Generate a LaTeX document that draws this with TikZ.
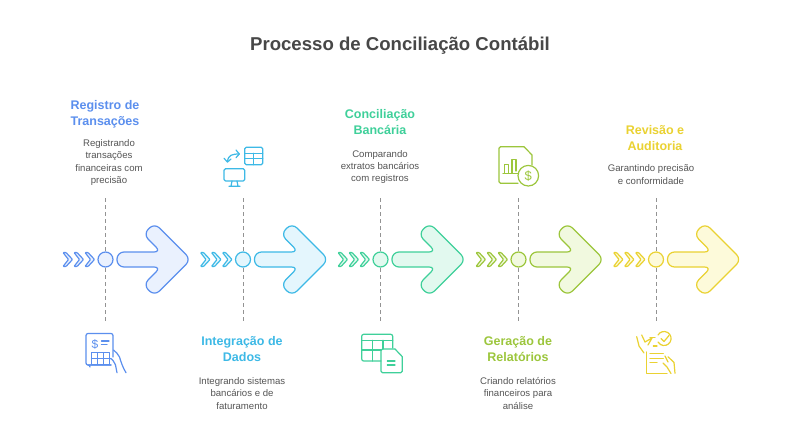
\documentclass[tikz,border=0pt]{standalone}
\usepackage{fontspec}
\setmainfont{Liberation Sans}
\definecolor{cblue}{HTML}{5B8FEE}\definecolor{fblue}{HTML}{EAF1FE}
\definecolor{ccyan}{HTML}{3DB9E6}\definecolor{fcyan}{HTML}{E4F6FD}
\definecolor{cgreen}{HTML}{3FD09A}\definecolor{fgreen}{HTML}{E2F9EF}
\definecolor{clime}{HTML}{9CC63C}\definecolor{flime}{HTML}{F1F9DF}
\definecolor{cyel}{HTML}{EAD232}\definecolor{fyel}{HTML}{FDFADA}
\definecolor{ctitle}{HTML}{474747}\definecolor{cbody}{HTML}{555555}
\tikzset{
 titletext/.style={text=ctitle,font=\fontsize{18.6}{22}\selectfont\bfseries,inner sep=0pt},
 headtext/.style={font=\fontsize{12.5}{16}\selectfont\bfseries,align=center,inner sep=0pt},
 bodytext/.style={text=cbody,font=\fontsize{9.6}{12.4}\selectfont,align=center,inner sep=0pt},
 guide/.style={draw=gray!85,line width=0.9pt,dash pattern=on 4pt off 3pt},
 outl/.style={line width=1.2pt,line join=round,line cap=round},
 icon/.style={line width=1.2pt,line join=round,line cap=round,fill=none},
}
\newcommand{\stage}[4]{% name, x, stroke, fill
 \begin{scope}[shift={(#2,0)}]
  \coordinate (#1top) at (0,198);
  \coordinate (#1bot) at (0,321);
  \draw[guide] (#1top) -- (#1bot);
  \foreach \d in {0,11,22}{
   \draw[outl,draw=#3,fill=#4,rounded corners=0.8pt]
    ([xshift=\d pt]-42.5,252.5) -- ++(3,0) -- ++(6.5,7) -- ++(-6.5,7) -- ++(-3,0) -- ++(5.5,-7) -- cycle;
  }
  \node[circle,draw=#3,fill=#4,line width=1.2pt,minimum size=15pt,inner sep=0pt] (#1c) at (0,259.5) {};
  \draw[outl,draw=#3,fill=#4,rounded corners=7pt]
   (11.5,252) -- (55.5,252) -- (37.7,234.2) -- (49,223) -- (85.5,259.5) -- (49,296) -- (37.7,284.8) -- (55.5,267) -- (11.5,267) -- cycle;
 \end{scope}
}
\begin{document}
\begin{tikzpicture}[x=1pt,y=-1pt]
\useasboundingbox (0,0) rectangle (800,447);
\fill[white] (0,0) rectangle (800,447);
\node[titletext] (title) at (400,46) {Processo de Conciliação Contábil};
\stage{a}{105.5}{cblue}{fblue}
\stage{b}{243}{ccyan}{fcyan}
\stage{c}{380.5}{cgreen}{fgreen}
\stage{d}{518.5}{clime}{flime}
\stage{e}{656}{cyel}{fyel}
% texts
\node[headtext,text=cblue] (h1) at (105,114) {Registro de\\Transações};
\node[bodytext] (b1) at (109,162.5) {Registrando\\transações\\financeiras com\\precisão};
\node[headtext,text=ccyan] (h2) at (242,349) {Integração de\\Dados};
\node[bodytext] (b2) at (242,393.5) {Integrando sistemas\\bancários e de\\faturamento};
\node[headtext,text=cgreen] (h3) at (380,122) {Conciliação\\Bancária};
\node[bodytext] (b3) at (380,167) {Comparando\\extratos bancários\\com registros};
\node[headtext,text=clime] (h4) at (518,349) {Geração de\\Relatórios};
\node[bodytext] (b4) at (518,393.5) {Criando relatórios\\financeiros para\\análise};
\node[headtext,text=cyel] (h5) at (655,138) {Revisão e\\Auditoria};
\node[bodytext] (b5) at (651,174.5) {Garantindo precisão\\e conformidade};
% icon blue
\begin{scope}[icon,draw=cblue]
 \draw (111,365) -- (88,365) arc (90:180:-2) ;
 \draw[rounded corners=2pt] (111,365) -- (86,365) -- (86,333.5) -- (113,333.5) -- (113,357);
 \draw (101.5,341) -- (109,341) (101.5,344.5) -- (107,344.5);
 \node[text=cblue,font=\fontsize{12}{12}\selectfont,inner sep=0pt] (dollar) at (95,344) {\$};
 \draw (91.5,352.7) rectangle (109.5,364.5) (91.5,358.5) -- (109.5,358.5) (97.5,352.7) -- (97.5,364.5) (103.5,352.7) -- (103.5,364.5);
 \draw (113.5,350) .. controls (116,352) and (118,354) .. (119.5,357) .. controls (121,362) and (123,368) .. (126,372.7);
 \draw (110,358.5) .. controls (112,358) and (114,362) .. (115.5,365) -- (117,372.7);
\end{scope}
% icon cyan
\begin{scope}[icon,draw=ccyan]
 \draw[rounded corners=1.5pt] (244.7,147.3) rectangle (262.7,164.7);
 \draw (244.7,153.3) -- (262.7,153.3) (244.7,158.7) -- (262.7,158.7) (253.5,153.3) -- (253.5,164.7);
 \draw[rounded corners=1.5pt] (224,168.7) rectangle (244.7,181);
 \draw (232,181) -- (231,186.3) (237,181) -- (238,186.3) (229,186.3) -- (240,186.3);
 \draw (227.5,162) .. controls (228,155) and (232,154) .. (239.3,154);
 \draw (236,150) -- (239.3,154) -- (236,157.7);
 \draw (224,158.3) -- (227.5,162) -- (231,159);
\end{scope}
% icon green
\begin{scope}[icon,draw=cgreen]
 \draw[rounded corners=2pt] (381,361) -- (361.7,361) -- (361.7,334.3) -- (392.7,334.3) -- (392.7,348);
 \draw (361.7,340.3) -- (392.7,340.3) (361.7,350) -- (381,350) (372.7,340.3) -- (372.7,361) (383,340.3) -- (383,349);
 \draw[rounded corners=1.5pt] (395,349) -- (381,349) -- (381,372.7) -- (402.3,372.7) -- (402.3,356.7);
 \draw (395,349) -- (402.3,356.7);
 \draw (387.3,361) -- (395,361) (387.3,365) -- (395,365);
\end{scope}
% icon lime
\begin{scope}[icon,draw=clime]
 \draw[rounded corners=1.5pt] (518,183.3) -- (499,183.3) -- (499,146.7) -- (524,146.7);
 \draw (524,146.7) -- (532,155) -- (532,165);
 \draw (503,173.3) -- (518,173.3);
 \draw (504.5,173.3) -- (504.5,164.5) -- (508.5,164.5) -- (508.5,173.3) (512,173.3) -- (512,159.5) -- (516,159.5) -- (516,171);
 \node[circle,draw=clime,line width=1.2pt,minimum size=20.6pt,inner sep=0pt,text=clime,font=\fontsize{13}{13}\selectfont] (dollar2) at (528.3,175.7) {\$};
\end{scope}
% icon yellow
\begin{scope}[icon,draw=cyel]
 \draw (646.7,352) -- (646.7,373.3) -- (667,373.3);
 \draw (653.3,346) -- (657,346);
 \draw (650,353.3) -- (663.3,353.3) (650,358.3) -- (663.3,358.3) (650,362.5) -- (657,362.5);
 \draw (658,335) arc (210:510:7) ;
 \draw (661,338.5) -- (664,341.5) -- (669,335.5);
 \draw (636.7,336.7) -- (639,346) -- (644,353);
 \draw (641.7,335) -- (645,342) -- (652,338) -- (648,345);
 \draw (650,337.5) -- (655,337.5);
 \draw (663,363) -- (667,367) -- (671,373.5);
 \draw (668,356.7) -- (674,362.5) -- (675,373.3);
 \draw (665,356) -- (668,362);
\end{scope}
\end{tikzpicture}
\end{document}
